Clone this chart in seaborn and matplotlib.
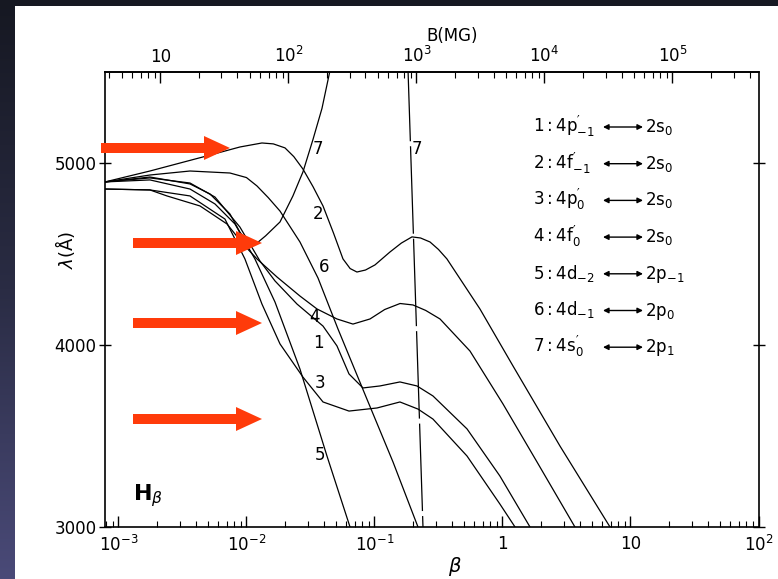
import numpy as np
import pandas as pd
import matplotlib
matplotlib.use("Agg")
import matplotlib.pyplot as plt
import seaborn as sns
from matplotlib.patches import FancyArrow, Rectangle
from matplotlib.colors import LinearSegmentedColormap
from matplotlib.ticker import LogLocator, NullFormatter

sns.set_theme(style="ticks")
plt.rcParams["font.family"] = ["DejaVu Sans"]
plt.rcParams["mathtext.fontset"] = "dejavusans"
for key in ("text.color", "axes.labelcolor", "xtick.color", "ytick.color", "axes.edgecolor"):
    plt.rcParams[key] = "black"

# beta = B / B0, with B0 = 4.70e9 G = 4.70e3 MG
B0_MG = 4.70e3

# Hbeta components: log10(beta) and wavelength in Angstrom
logb_1 = [-3.105, -2.754, -2.441, -2.246, -2.051, -1.895, -1.777, -1.605, -1.402, -1.293,
          -1.199, -1.090, -0.957, -0.801, -0.668, -0.543, -0.277, -0.020, 0.215]
lam_1 = [4896, 4918, 4890, 4813, 4648, 4462, 4352, 4225, 4104, 3995,
         3841, 3764, 3775, 3797, 3775, 3720, 3539, 3280, 3000]

logb_2 = [-3.105, -2.754, -2.309, -2.051, -1.879, -1.790, -1.699, -1.630, -1.559, -1.480,
          -1.402, -1.320, -1.246, -1.190, -1.137, -1.070, -0.996, -0.879, -0.790, -0.707,
          -0.640, -0.566, -0.500, -0.434, -0.176, 0.082, 0.449, 0.840]
lam_2 = [4896, 4956, 5039, 5088, 5110, 5105, 5083, 5035, 4967, 4870,
         4764, 4615, 4473, 4420, 4401, 4412, 4440, 4511, 4560, 4594,
         4588, 4566, 4525, 4473, 4198, 3885, 3445, 3000]

logb_3 = [-3.105, -2.754, -2.441, -2.168, -2.012, -1.879, -1.738, -1.559, -1.402, -1.199,
          -0.980, -0.801, -0.660, -0.543, -0.277, -0.020, 0.098]
lam_3 = [4857, 4852, 4819, 4692, 4473, 4225, 4006, 3824, 3687, 3637,
         3654, 3687, 3648, 3593, 3390, 3126, 3000]

logb_4 = [-3.105, -2.754, -2.621, -2.363, -2.152, -2.027, -1.918, -1.762, -1.582, -1.449,
          -1.293, -1.168, -1.035, -0.920, -0.800, -0.699, -0.600, -0.488, -0.254, 0.004,
          0.270, 0.566]
lam_4 = [4857, 4852, 4819, 4764, 4665, 4555, 4473, 4374, 4269, 4198,
         4143, 4115, 4143, 4195, 4228, 4220, 4190, 4143, 3967, 3676,
         3357, 3000]

logb_5 = [-3.105, -2.754, -2.441, -2.246, -2.090, -1.934, -1.777, -1.582, -1.371, -1.191]
lam_5 = [4896, 4907, 4857, 4775, 4665, 4473, 4236, 3868, 3390, 3000]

logb_6 = [-3.105, -2.754, -2.441, -2.129, -2.000, -1.918, -1.830, -1.738, -1.582, -1.441,
          -1.285, -1.059, -0.855, -0.660]
lam_6 = [4896, 4934, 4956, 4945, 4920, 4874, 4810, 4736, 4566, 4368,
         4088, 3703, 3357, 3000]

logb_7a = [-3.105, -2.754, -2.441, -2.285, -2.129, -2.051, -1.973, -1.918, -1.850, -1.738,
           -1.637, -1.582, -1.559, -1.480, -1.410, -1.348, -1.320]
lam_7a = [4896, 4923, 4885, 4830, 4720, 4620, 4548, 4560, 4600, 4676,
          4819, 4912, 4950, 5130, 5300, 5506, 5600]
logb_7b = [-0.742, -0.621]
lam_7b = [5600, 3000]

# curve numbers written next to the lines
curve_tags = ["7", "2", "6", "4", "1", "3", "5", "7"]
tag_logb = [-1.441, -1.441, -1.395, -1.465, -1.441, -1.426, -1.426, -0.672]
tag_lam = [5077, 4720, 4429, 4154, 4011, 3791, 3396, 5077]

# transition key
key_upper = [r"$\mathregular{1:4p^{\prime}_{-1}}$", r"$\mathregular{2:4f^{\prime}_{-1}}$",
             r"$\mathregular{3:4p^{\prime}_{0}}$", r"$\mathregular{4:4f^{\prime}_{0}}$",
             r"$\mathregular{5:4d_{-2}}$", r"$\mathregular{6:4d_{-1}}$",
             r"$\mathregular{7:4s^{\prime}_{0}}$"]
key_lower = [r"$\mathregular{2s_{0}}$", r"$\mathregular{2s_{0}}$", r"$\mathregular{2s_{0}}$",
             r"$\mathregular{2s_{0}}$", r"$\mathregular{2p_{-1}}$", r"$\mathregular{2p_{0}}$",
             r"$\mathregular{2p_{1}}$"]

x_ticks = [1e-3, 1e-2, 1e-1, 1, 10, 100]
x_tick_labels = [r"$10^{-3}$", r"$10^{-2}$", r"$10^{-1}$", "1", "10", r"$10^{2}$"]
b_ticks = [10, 1e2, 1e3, 1e4, 1e5]
b_tick_labels = ["10", r"$10^{2}$", r"$10^{3}$", r"$10^{4}$", r"$10^{5}$"]
y_ticks = [3000, 4000, 5000]

segments = {"1": (logb_1, lam_1), "2": (logb_2, lam_2), "3": (logb_3, lam_3),
            "4": (logb_4, lam_4), "5": (logb_5, lam_5), "6": (logb_6, lam_6),
            "7a": (logb_7a, lam_7a)}
rows = []
for name, (lb, lm) in segments.items():
    for b, l in zip(lb, lm):
        rows.append({"seg": name, "beta": 10.0 ** b, "lam": l})
df = pd.DataFrame(rows)
df_7b = pd.DataFrame({"seg": "7b", "beta": 10.0 ** np.array(logb_7b), "lam": lam_7b})

W, H = 778, 579
fig = plt.figure(figsize=(W / 100, H / 100), dpi=100)

# slide backdrop with white page
bg = fig.add_axes([0, 0, 1, 1], zorder=-5)
cmap = LinearSegmentedColormap.from_list("slide", ["#161822", "#2a2c44", "#4a4a78"])
bg.imshow(np.linspace(0, 1, 256).reshape(-1, 1), extent=(0, W, H, 0), aspect="auto", cmap=cmap)
bg.add_patch(Rectangle((15, 6), W - 15, H - 6, color="white", lw=0))
bg.set_xlim(0, W)
bg.set_ylim(H, 0)
bg.axis("off")

ax = fig.add_axes([105 / W, 52 / H, 653.5 / W, 455 / H])
ax.set_facecolor("white")
sns.lineplot(data=df, x="beta", y="lam", units="seg", estimator=None, sort=False,
             color="black", linewidth=0.9, ax=ax, legend=False)
sns.lineplot(data=df_7b, x="beta", y="lam", units="seg", estimator=None, sort=False,
             color="black", linewidth=0.9, linestyle=(0, (70, 4)), ax=ax, legend=False)

ax.set_xscale("log")
ax.set_xlim(10 ** -3.105, 100)
ax.set_ylim(3000, 5500)

ax.set_xticks(x_ticks)
ax.set_xticklabels(x_tick_labels)
ax.xaxis.set_minor_locator(LogLocator(base=10, subs=np.arange(2, 10), numticks=30))
ax.xaxis.set_minor_formatter(NullFormatter())
ax.tick_params(axis="x", which="major", direction="in", length=8, width=1.0,
               labelsize=12, pad=6, bottom=True, top=False)
ax.tick_params(axis="x", which="minor", direction="in", length=4, width=0.8,
               bottom=True, top=False)
ax.set_yticks(y_ticks)
ax.tick_params(axis="y", which="major", direction="inout", length=8, width=1.0,
               labelsize=12, pad=2, left=True, right=True)
for sp in ax.spines.values():
    sp.set_color("black")
    sp.set_linewidth(1.2)
    sp.set_visible(True)

ax.set_xlabel(r"$\beta$", fontsize=14)
ax.xaxis.set_label_coords((455 - 105) / 653.5, -0.062)
ax.set_ylabel(r"$\lambda$(Å)", fontsize=13)
ax.yaxis.label.set_verticalalignment("center")
ax.yaxis.set_label_coords(-0.061, 0.609)

sec = ax.secondary_xaxis("top", functions=(lambda b: b * B0_MG, lambda B: B / B0_MG))
sec.set_xticks(b_ticks)
sec.set_xticklabels(b_tick_labels)
sec.xaxis.set_minor_locator(LogLocator(base=10, subs=np.arange(2, 10), numticks=30))
sec.xaxis.set_minor_formatter(NullFormatter())
sec.tick_params(axis="x", which="major", direction="in", length=8, width=1.0,
                labelsize=12, pad=4)
sec.tick_params(axis="x", which="minor", direction="in", length=4, width=0.8)
sec.spines["top"].set_linewidth(1.2)
sec.set_xlabel("B(MG)", fontsize=12, labelpad=4)
sec.xaxis.label.set_x((452 - 105) / 653.5)

for t, lb, lm in zip(curve_tags, tag_logb, tag_lam):
    ax.text(10 ** lb, lm, t, fontsize=12, ha="center", va="center")

ax.text(10 ** -2.77, 3170, r"$\mathbf{H}_{\beta}$", fontsize=16, ha="center", va="center")

# overlay in pixel units for the key and the pointers
ov = fig.add_axes([0, 0, 1, 1], zorder=5)
ov.set_xlim(0, W)
ov.set_ylim(H, 0)
ov.axis("off")

for i, (up, lo) in enumerate(zip(key_upper, key_lower)):
    yb = 132 + 36.7 * i
    ov.text(533, yb, up, fontsize=12, ha="left", va="baseline")
    ov.annotate("", xy=(643, yb - 5), xytext=(603, yb - 5),
                arrowprops=dict(arrowstyle="<|-|>", color="black", lw=1.0,
                                mutation_scale=8, shrinkA=0, shrinkB=0))
    ov.text(645, yb, lo, fontsize=12, ha="left", va="baseline")

arrow_y = [148, 243, 323, 419]
arrow_x0 = [101, 133, 133, 133]
arrow_x1 = [230, 262, 262, 262]
for y, x0, x1 in zip(arrow_y, arrow_x0, arrow_x1):
    ov.add_patch(FancyArrow(x0, y, x1 - x0, 0, width=10, head_width=24, head_length=26,
                            length_includes_head=True, color="#ff3b0a", lw=0))

fig.savefig("out.png", dpi=100)
